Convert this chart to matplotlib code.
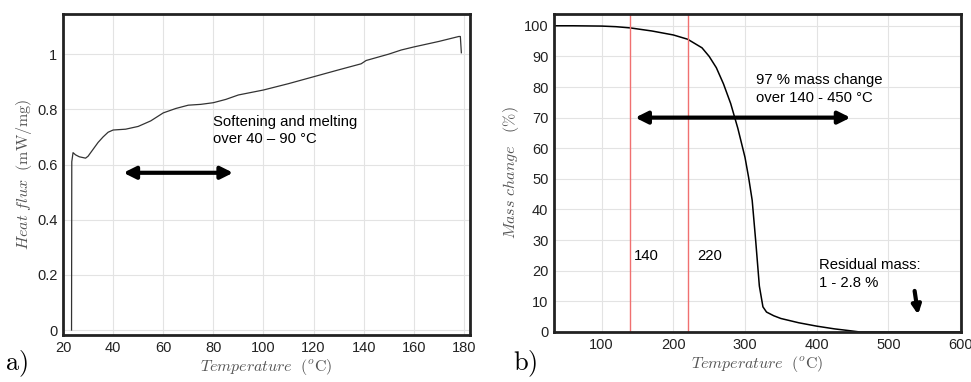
import numpy as np
import matplotlib.pyplot as plt

plt.rcParams['font.family'] = ['Liberation Sans', 'DejaVu Sans']
plt.rcParams['mathtext.fontset'] = 'cm'

# a) DSC heat flux
dsc_temp = [23.4, 23.5, 24.0, 25.0, 26.5, 28.0, 29.0, 30.0, 32.0, 34.0, 36.0, 38.0, 40.0,
            45.0, 50.0, 55.0, 60.0, 65.0, 70.0, 75.0, 80.0, 85.0, 90.0, 95.0, 100.0,
            110.0, 120.0, 130.0, 139.0, 141.0, 150.0, 155.0, 160.0, 170.0, 178.0, 178.6, 179.0]
dsc_flux = [0.0, 0.61, 0.643, 0.635, 0.628, 0.625, 0.623, 0.63, 0.655, 0.68, 0.70, 0.717, 0.725,
            0.728, 0.738, 0.758, 0.787, 0.803, 0.815, 0.818, 0.824, 0.836, 0.852, 0.861, 0.87,
            0.893, 0.918, 0.943, 0.965, 0.977, 1.0, 1.015, 1.026, 1.046, 1.064, 1.064, 1.005]

# b) TGA mass change
tga_temp = [33, 60, 100, 120, 140, 170, 200, 220, 240, 250, 260, 270, 280, 290, 300,
            305, 310, 315, 320, 325, 330, 340, 350, 375, 400, 425, 450, 460, 500, 600]
tga_mass = [100.0, 100.0, 99.9, 99.7, 99.3, 98.3, 97.0, 95.6, 92.8, 90.0, 86.3, 81.0, 74.6, 66.5, 57.0,
            50.5, 43.0, 29.5, 15.0, 8.2, 6.5, 5.3, 4.4, 3.0, 1.9, 1.0, 0.3, 0.0, 0.0, 0.0]
tga_marks = [140, 220]

label_color = '#555555'
grid_color = '#e3e3e3'

fig = plt.figure(figsize=(9.71, 3.82), dpi=100)
ax1 = fig.add_axes([0.0649, 0.123, 0.419, 0.840])
ax2 = fig.add_axes([0.5705, 0.131, 0.419, 0.832])

def style(ax):
    for s in ax.spines.values():
        s.set_linewidth(2.0)
        s.set_color('#222222')
    ax.grid(True, color=grid_color, linewidth=0.8)
    ax.set_axisbelow(True)
    ax.tick_params(length=0, labelsize=10.5, pad=4, colors='#222222')

arrow_kw = dict(arrowstyle='<|-|>', color='black', lw=3, mutation_scale=18)

# panel a
ax1.plot(dsc_temp, dsc_flux, color='#333333', linewidth=0.9)
ax1.set_xlim(20, 182.4)
ax1.set_ylim(-0.018, 1.145)
ax1.set_xticks(np.arange(20, 181, 20))
ax1.set_yticks([0, 0.2, 0.4, 0.6, 0.8, 1.0])
ax1.set_yticklabels(['0', '0.2', '0.4', '0.6', '0.8', '1'])
style(ax1)
ax1.set_xlabel(r'$Temperature\ \ (^o\mathrm{C})$', color=label_color, fontsize=11.5, labelpad=2)
ax1.set_ylabel(r'$Heat\ flux\ \ \mathrm{(mW/mg)}$', color=label_color, fontsize=11.5, labelpad=2)
ax1.annotate('', xy=(43, 0.57), xytext=(89, 0.57), arrowprops=arrow_kw)
ax1.text(80, 0.78, 'Softening and melting\nover 40 \u2013 90 \u00b0C', fontsize=10.7,
         va='top', ha='left', linespacing=1.3)

# panel b
ax2.plot(tga_temp, tga_mass, color='black', linewidth=1.1)
for t in tga_marks:
    ax2.axvline(t, color='#f07070', linewidth=1.0)
ax2.set_xlim(33.5, 601)
ax2.set_ylim(0, 103.8)
ax2.set_xticks(np.arange(100, 601, 100))
ax2.set_yticks(np.arange(0, 101, 10))
style(ax2)
ax2.set_xlabel(r'$Temperature\ \ (^o\mathrm{C})$', color=label_color, fontsize=11.5, labelpad=2)
ax2.set_ylabel(r'$Mass\ change\ \ \ \mathrm{(\%)}$', color=label_color, fontsize=11.5, labelpad=2)
ax2.annotate('', xy=(143, 70), xytext=(451, 70), arrowprops=arrow_kw)
ax2.text(316, 84.5, '97 % mass change\nover 140 - 450 \u00b0C', fontsize=10.7,
         va='top', ha='left', linespacing=1.3)
ax2.text(145, 24.8, '140', fontsize=10.7, va='center')
ax2.text(234, 24.8, '220', fontsize=10.7, va='center')
ax2.text(403, 24, 'Residual mass:\n1 - 2.8 %', fontsize=10.7, va='top', ha='left', linespacing=1.3)
ax2.annotate('', xy=(542, 4.8), xytext=(536, 14.3),
             arrowprops=dict(arrowstyle='-|>', color='black', lw=3, mutation_scale=13))

fig.text(0.005, 0.03, r'$\mathrm{a)}$', fontsize=19)
fig.text(0.528, 0.03, r'$\mathrm{b)}$', fontsize=19)

fig.savefig('out.png', dpi=100)
